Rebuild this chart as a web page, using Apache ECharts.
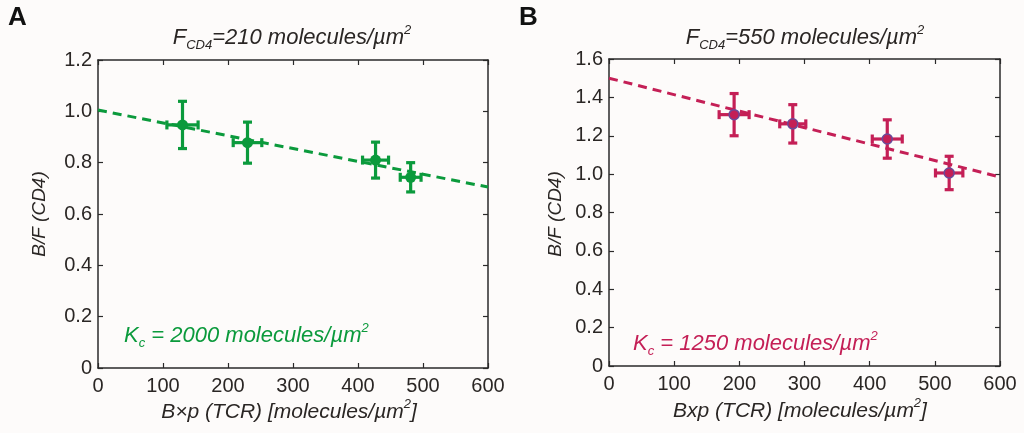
<!DOCTYPE html>
<html>
<head>
<meta charset="utf-8">
<script src="https://cdn.jsdelivr.net/npm/echarts@6/dist/echarts.min.js"></script>
<style>
  html, body { margin: 0; padding: 0; background: #fdfbfa; }
  #main { width: 1024px; height: 433px; }
</style>
</head>
<body>
<div id="main"></div>
<script>
// panel A data: [x, y, xErr, yErr]
var ptsA_x = [130, 230, 427, 481];
var ptsA_y = [0.947, 0.878, 0.810, 0.743];
var ptsA_xerr = [24, 22, 20, 16];
var ptsA_yerr = [0.092, 0.080, 0.070, 0.057];
var fitA = [[0, 1.005], [600, 0.705]];

// panel B data
var ptsB_x = [192, 282, 427, 522];
var ptsB_y = [1.310, 1.262, 1.183, 1.006];
var ptsB_xerr = [23, 20, 23, 21];
var ptsB_yerr = [0.110, 0.100, 0.100, 0.087];
var fitB = [[0, 1.50], [600, 0.985]];

var xTicks = [0, 100, 200, 300, 400, 500, 600];
var yTicksA = [0, 0.2, 0.4, 0.6, 0.8, 1.0, 1.2];
var yTicksB = [0, 0.2, 0.4, 0.6, 0.8, 1.0, 1.2, 1.4, 1.6];

var green = '#0b9a3c';
var crimson = '#c41f56';
var axisColor = '#2a2a2a';
var textColor = '#2a2624';
var font = 'Liberation Sans, Arial, sans-serif';

var chart = echarts.init(document.getElementById('main'));

function zip(xs, ys, xe, ye) {
  var out = [];
  for (var i = 0; i < xs.length; i++) out.push([xs[i], ys[i], xe[i], ye[i]]);
  return out;
}

function errorBars(color) {
  return function (params, api) {
    var x = api.value(0), y = api.value(1), dx = api.value(2), dy = api.value(3);
    var top = api.coord([x, y + dy]);
    var bot = api.coord([x, y - dy]);
    var lft = api.coord([x - dx, y]);
    var rgt = api.coord([x + dx, y]);
    var cap = 4.5;
    var st = { stroke: color, lineWidth: 3.2 };
    function ln(x1, y1, x2, y2) {
      return { type: 'line', shape: { x1: x1, y1: y1, x2: x2, y2: y2 }, style: st };
    }
    return {
      type: 'group',
      children: [
        ln(top[0], top[1], bot[0], bot[1]),
        ln(top[0] - cap, top[1], top[0] + cap, top[1]),
        ln(bot[0] - cap, bot[1], bot[0] + cap, bot[1]),
        ln(lft[0], lft[1], rgt[0], rgt[1]),
        ln(lft[0], lft[1] - cap, lft[0], lft[1] + cap),
        ln(rgt[0], rgt[1] - cap, rgt[0], rgt[1] + cap)
      ]
    };
  };
}

function xAxisPair(grid) {
  var base = {
    gridIndex: grid, type: 'value', min: 0, max: 600, interval: 100,
    axisLine: { show: true, onZero: false, lineStyle: { color: axisColor, width: 1.5 } },
    axisTick: { show: true, inside: true, length: 5, lineStyle: { color: axisColor, width: 1.2 } },
    splitLine: { show: false }
  };
  var bottom = Object.assign({}, base, {
    position: 'bottom',
    axisLabel: { show: true, color: textColor, fontSize: 20, fontFamily: font, margin: 8, showMinLabel: true, showMaxLabel: true }
  });
  var top = Object.assign({}, base, { position: 'top', axisLabel: { show: false } });
  return [bottom, top];
}

function yAxisPair(grid, max) {
  var base = {
    gridIndex: grid, type: 'value', min: 0, max: max, interval: 0.2,
    axisLine: { show: true, onZero: false, lineStyle: { color: axisColor, width: 1.5 } },
    axisTick: { show: true, inside: true, length: 5, lineStyle: { color: axisColor, width: 1.2 } },
    splitLine: { show: false }
  };
  var left = Object.assign({}, base, {
    position: 'left',
    axisLabel: {
      show: true, color: textColor, fontSize: 20, fontFamily: font, margin: 6,
      formatter: function (v) { return v === 0 ? '0' : v.toFixed(1); }
    }
  });
  var right = Object.assign({}, base, { position: 'right', axisLabel: { show: false } });
  return [left, right];
}

var xa = xAxisPair(0), xb = xAxisPair(1);
var ya = yAxisPair(0, 1.2), yb = yAxisPair(1, 1.6);

function richSet(color, size) {
  return {
    m: { fontSize: size, fontStyle: 'italic', fontFamily: font, fill: color, lineHeight: 28, verticalAlign: 'middle' },
    s: { fontSize: 13, fontStyle: 'italic', fontFamily: font, fill: color, lineHeight: 12, verticalAlign: 'bottom' },
    p: { fontSize: 13, fontStyle: 'italic', fontFamily: font, fill: color, lineHeight: 16, verticalAlign: 'top' }
  };
}
function richTitle(num) {
  return '{m|F}{s|CD4}{m|=' + num + ' molecules/µm}{p|2}';
}

var option = {
  backgroundColor: '#fdfbfa',
  animation: false,
  grid: [
    { left: 98, top: 60, width: 390, height: 308 },
    { left: 609, top: 59, width: 391, height: 307 }
  ],
  xAxis: [xa[0], xa[1], xb[0], xb[1]],
  yAxis: [ya[0], ya[1], yb[0], yb[1]],
  graphic: [
    { type: 'text', left: 8, top: 5, style: { text: 'A', font: 'bold 26px ' + font, fill: '#111' } },
    { type: 'text', left: 519, top: 5, style: { text: 'B', font: 'bold 26px ' + font, fill: '#111' } },
    { type: 'text', x: 292, y: 38, style: { text: richTitle(210), rich: richSet(textColor, 22), align: 'center', verticalAlign: 'middle' } },
    { type: 'text', x: 805, y: 38, style: { text: richTitle(550), rich: richSet(textColor, 22), align: 'center', verticalAlign: 'middle' } },
    { type: 'text', x: 289, y: 412, style: { text: '{m|B×p (TCR) [molecules/µm}{p|2}{m|]}', rich: richSet(textColor, 21), align: 'center', verticalAlign: 'middle' } },
    { type: 'text', x: 800, y: 411, style: { text: '{m|Bxp (TCR) [molecules/µm}{p|2}{m|]}', rich: richSet(textColor, 21), align: 'center', verticalAlign: 'middle' } },
    { type: 'text', x: 40, y: 214, rotation: Math.PI / 2, style: { text: 'B/F (CD4)', font: 'italic 19px ' + font, fill: textColor, align: 'center', verticalAlign: 'middle' } },
    { type: 'text', x: 556, y: 214, rotation: Math.PI / 2, style: { text: 'B/F (CD4)', font: 'italic 19px ' + font, fill: textColor, align: 'center', verticalAlign: 'middle' } },
    { type: 'text', x: 124, y: 336, style: { text: '{m|K}{s|c}{m| = 2000 molecules/µm}{p|2}', rich: richSet(green, 22), align: 'left', verticalAlign: 'middle' } },
    { type: 'text', x: 633, y: 344, style: { text: '{m|K}{s|c}{m| = 1250 molecules/µm}{p|2}', rich: richSet(crimson, 22), align: 'left', verticalAlign: 'middle' } }
  ],
  series: [
    {
      type: 'line', xAxisIndex: 0, yAxisIndex: 0, data: fitA, symbol: 'none', z: 2,
      lineStyle: { color: green, width: 3, type: [9, 6] }
    },
    {
      type: 'custom', xAxisIndex: 0, yAxisIndex: 0, z: 3,
      data: zip(ptsA_x, ptsA_y, ptsA_xerr, ptsA_yerr),
      renderItem: errorBars(green)
    },
    {
      type: 'scatter', xAxisIndex: 0, yAxisIndex: 0, z: 4, symbolSize: 11,
      data: zip(ptsA_x, ptsA_y, ptsA_xerr, ptsA_yerr),
      itemStyle: { color: green, opacity: 1 }
    },
    {
      type: 'line', xAxisIndex: 2, yAxisIndex: 2, data: fitB, symbol: 'none', z: 2,
      lineStyle: { color: crimson, width: 3, type: [9, 6] }
    },
    {
      type: 'custom', xAxisIndex: 2, yAxisIndex: 2, z: 3,
      data: zip(ptsB_x, ptsB_y, ptsB_xerr, ptsB_yerr),
      renderItem: errorBars(crimson)
    },
    {
      type: 'scatter', xAxisIndex: 2, yAxisIndex: 2, z: 4, symbolSize: 10,
      data: zip(ptsB_x, ptsB_y, ptsB_xerr, ptsB_yerr),
      itemStyle: { color: crimson, borderColor: '#6a4a9a', borderWidth: 1.5, opacity: 1 }
    }
  ]
};

chart.setOption(option);
</script>
</body>
</html>
